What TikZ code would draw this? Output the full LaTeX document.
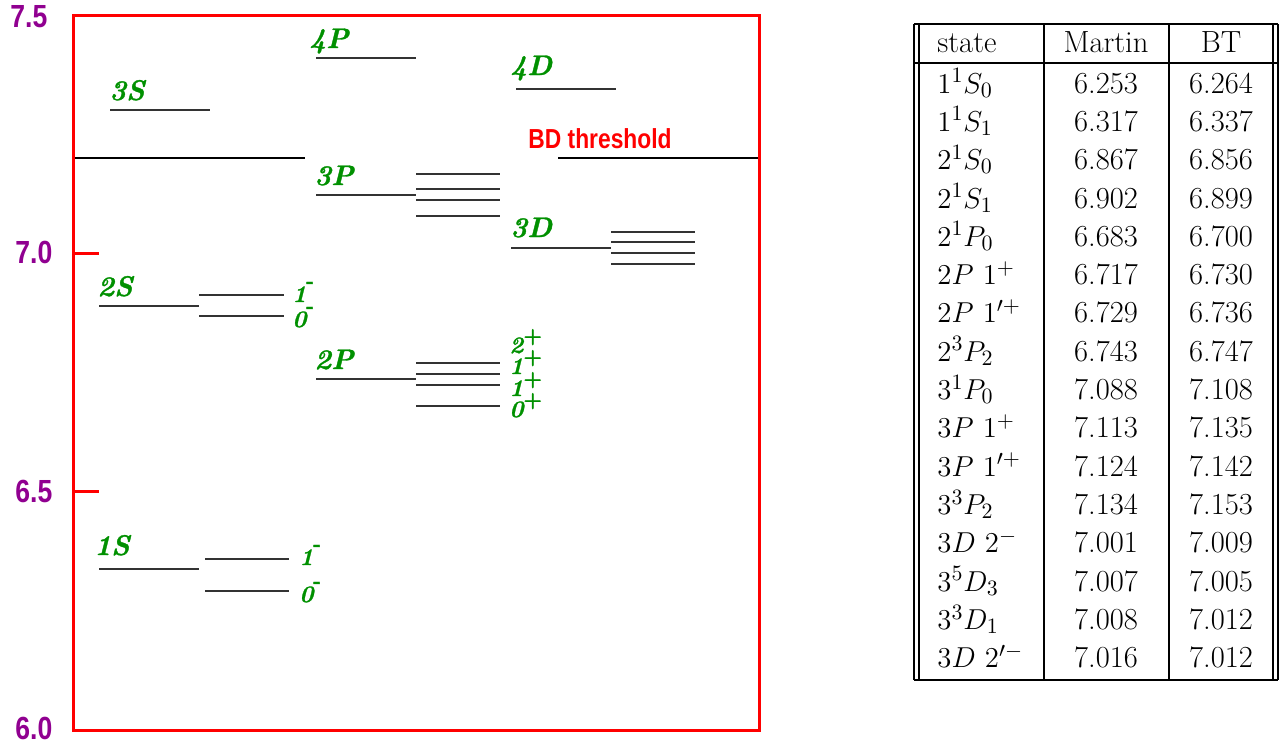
\documentclass[tikz,border=0pt]{standalone}
\usepackage{fontspec}
\newfontfamily\narrowsans[FakeStretch=0.83]{Liberation Sans}
\newfontface\labfont{lmroman10-bolditalic.otf}[FakeBold=1.2]
\newfontface\labup{lmroman10-bold.otf}[FakeBold=1.5]
\definecolor{figgreen}{RGB}{0,144,0}
\definecolor{figpurple}{RGB}{144,0,144}
\newcommand{\supminus}{\raisebox{0.62em}{\fontsize{10}{10}\selectfont\labup -}}
\newcommand{\supplus}{\raisebox{0.45em}{\fontsize{10.5}{10}\selectfont\labup +}}
\begin{document}
\begin{tikzpicture}[x=0.5pt,y=-0.5pt,
  lvl/.style={line width=0.6pt, black!80},
  thr/.style={line width=0.9pt, black},
  frame/.style={draw=red, line width=1.5pt},
  lab/.style={text=figgreen, font=\fontsize{14.2}{14}\selectfont\labfont, inner sep=0pt, anchor=base west},
  sublab/.style={text=figgreen, font=\fontsize{11.8}{12}\selectfont\labfont, inner sep=0pt, anchor=base west},
  axlab/.style={text=figpurple, font=\fontsize{16}{16}\selectfont\narrowsans\bfseries, inner sep=0pt, anchor=base west},
  thrlab/.style={text=red, font=\fontsize{13.75}{14}\selectfont\narrowsans\bfseries, inner sep=0pt, anchor=base west},
  tline/.style={line width=0.65pt, black},
  cellc/.style={font=\fontsize{15.3}{16}\selectfont, inner sep=0pt, anchor=base},
  celll/.style={font=\fontsize{15.3}{16}\selectfont, inner sep=0pt, anchor=base west}]
\useasboundingbox (0,0) rectangle (1285,746);

% frame and ticks
\draw[frame] (73,15) rectangle (759,730);
\draw[frame] (73,253) -- (99,253);
\draw[frame] (73,491) -- (99,491);

% axis labels
\node[axlab] (a75) at (10,27) {7.5};
\node[axlab] (a70) at (15,263) {7.0};
\node[axlab] (a65) at (15,502) {6.5};
\node[axlab] (a60) at (15,739) {6.0};

% threshold
\draw[thr] (75,158) -- (305,158);
\draw[thr] (558,158) -- (758,158);
\node[thrlab] (bd) at (528,148) {BD threshold};

% levels
\draw[lvl] (110,110) -- (210,110);
\draw[lvl] (316,58) -- (416,58);
\draw[lvl] (516,89) -- (616,89);
\draw[lvl] (316,195) -- (416,195);
\foreach \y in {174,189,200,216} \draw[lvl] (416,\y) -- (500,\y);
\draw[lvl] (511,248) -- (611,248);
\foreach \y in {232,242,253,264} \draw[lvl] (611,\y) -- (695,\y);
\draw[lvl] (99,306) -- (199,306);
\foreach \y in {295,316} \draw[lvl] (199,\y) -- (284,\y);
\draw[lvl] (316,379) -- (416,379);
\foreach \y in {363,374,385,406} \draw[lvl] (416,\y) -- (500,\y);
\draw[lvl] (99,569) -- (199,569);
\foreach \y in {559,591} \draw[lvl] (205,\y) -- (289,\y);

% level labels
\node[lab] (l3S) at (109,100) {3S};
\node[lab] (l4P) at (309,48) {4P};
\node[lab] (l4D) at (510,75) {4D};
\node[lab] (l3P) at (314,185) {3P};
\node[lab] (l3D) at (510,237) {3D};
\node[lab] (l2S) at (97,296) {2S};
\node[lab] (l2P) at (314,369) {2P};
\node[lab] (l1S) at (94,555) {1S};

\node[sublab] (s1a) at (299,565) {1\supminus};
\node[sublab] (s1b) at (299,602) {0\supminus};
\node[sublab] (s2a) at (292,302) {1\supminus};
\node[sublab] (s2b) at (292,327) {0\supminus};
\node[sublab] (p2a) at (509,353) {2\supplus};
\node[sublab] (p2b) at (509,374) {1\supplus};
\node[sublab] (p2c) at (509,396) {1\supplus};
\node[sublab] (p2d) at (509,417) {0\supplus};

% table
\draw[tline] (914,24) -- (1278,24);
\draw[tline] (914,63) -- (1278,63);
\draw[tline] (914,680) -- (1278,680);
\foreach \x in {914,919,1044,1169,1273,1278} \draw[tline] (\x,24) -- (\x,680);
\node[celll] (hs) at (937,52) {state};
\node[cellc] (hm) at (1106,52) {Martin};
\node[cellc] (hb) at (1221,52) {BT};
\foreach \s/\m/\b [count=\i] in {
  {$1^1S_0$}/6.253/6.264,
  {$1^1S_1$}/6.317/6.337,
  {$2^1S_0$}/6.867/6.856,
  {$2^1S_1$}/6.902/6.899,
  {$2^1P_0$}/6.683/6.700,
  {$2P~1^{+}$}/6.717/6.730,
  {$2P~1'^{+}$}/6.729/6.736,
  {$2^3P_2$}/6.743/6.747,
  {$3^1P_0$}/7.088/7.108,
  {$3P~1^{+}$}/7.113/7.135,
  {$3P~1'^{+}$}/7.124/7.142,
  {$3^3P_2$}/7.134/7.153,
  {$3D~2^{-}$}/7.001/7.009,
  {$3^5D_3$}/7.007/7.005,
  {$3^3D_1$}/7.008/7.012,
  {$3D~2'^{-}$}/7.016/7.012}{
  \pgfmathsetmacro\yy{93+38.33*(\i-1)}
  \node[celll] (s\i) at (937,\yy) {\s};
  \node[cellc] (m\i) at (1106,\yy) {\m};
  \node[cellc] (b\i) at (1221,\yy) {\b};
}
\end{tikzpicture}
\end{document}
